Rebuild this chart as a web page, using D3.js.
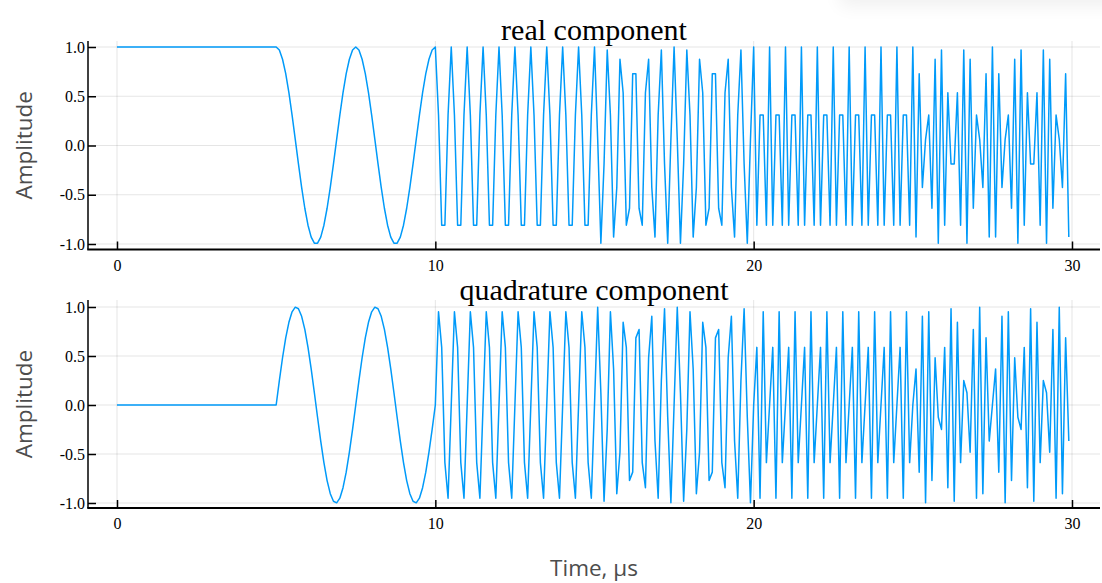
<!DOCTYPE html>
<html>
<head>
<meta charset="utf-8">
<script src="https://cdn.jsdelivr.net/npm/d3@7/dist/d3.min.js"></script>
<style>
  html, body { margin: 0; padding: 0; background: #fff; }
  svg { display: block; }
</style>
</head>
<body>
<div id="chart"></div>
<script>
// sample spacing of the signal, in µs
var sampleStep = 0.1;

// real component, one value per sample (t = 0 ... 29.9 µs)
var realComponent = [
  // 0 - 4.9
  1,1,1,1,1,1,1,1,1,1, 1,1,1,1,1,1,1,1,1,1, 1,1,1,1,1,1,1,1,1,1, 1,1,1,1,1,1,1,1,1,1, 1,1,1,1,1,1,1,1,1,1,
  // 5 - 9.9
  1,0.969,0.876,0.729,0.536,0.309,0.063,-0.187,-0.426,-0.637,-0.809,-0.930,-0.992,-0.992,-0.930,-0.809,-0.637,-0.426,-0.187,0.063,0.309,0.536,0.729,0.876,0.969,
  1,0.969,0.876,0.729,0.536,0.309,0.063,-0.187,-0.426,-0.637,-0.809,-0.930,-0.992,-0.992,-0.930,-0.809,-0.637,-0.426,-0.187,0.063,0.309,0.536,0.729,0.876,0.969,
  // 10 - 14.9
  1,0.309,-0.809,-0.809,0.309, 1,0.309,-0.809,-0.809,0.309, 1,0.309,-0.809,-0.809,0.309, 1,0.309,-0.809,-0.809,0.309, 1,0.309,-0.809,-0.809,0.309,
  1,0.309,-0.809,-0.809,0.309, 1,0.309,-0.809,-0.809,0.309, 1,0.309,-0.809,-0.809,0.309, 1,0.309,-0.809,-0.809,0.309, 1,0.309,-0.809,-0.809,0.309,
  // 15 - 19.9
  1,0.063,-0.992,-0.187,0.969,0.309,-0.930,-0.426,0.876,0.536,-0.809,-0.637,0.729,0.729,-0.637,-0.809,0.536,0.876,-0.426,-0.930,0.309,0.969,-0.187,-0.992,0.063,
  1,0.063,-0.992,-0.187,0.969,0.309,-0.930,-0.426,0.876,0.536,-0.809,-0.637,0.729,0.729,-0.637,-0.809,0.536,0.876,-0.426,-0.930,0.309,0.969,-0.187,-0.992,0.063,
  // 20 - 24.9
  1,-0.809,0.309,0.309,-0.809, 1,-0.809,0.309,0.309,-0.809, 1,-0.809,0.309,0.309,-0.809, 1,-0.809,0.309,0.309,-0.809, 1,-0.809,0.309,0.309,-0.809,
  1,-0.809,0.309,0.309,-0.809, 1,-0.809,0.309,0.309,-0.809, 1,-0.809,0.309,0.309,-0.809, 1,-0.809,0.309,0.309,-0.809, 1,-0.809,0.309,0.309,-0.809,
  // 25 - 29.9
  1,-0.930,0.729,-0.426,0.063,0.309,-0.637,0.876,-0.992,0.969,-0.809,0.536,-0.187,-0.187,0.536,-0.809,0.969,-0.992,0.876,-0.637,0.309,0.063,-0.426,0.729,-0.930,
  1,-0.930,0.729,-0.426,0.063,0.309,-0.637,0.876,-0.992,0.969,-0.809,0.536,-0.187,-0.187,0.536,-0.809,0.969,-0.992,0.876,-0.637,0.309,0.063,-0.426,0.729,-0.930
];

// quadrature component, same samples
var quadComponent = [
  // 0 - 4.9
  0,0,0,0,0,0,0,0,0,0, 0,0,0,0,0,0,0,0,0,0, 0,0,0,0,0,0,0,0,0,0, 0,0,0,0,0,0,0,0,0,0, 0,0,0,0,0,0,0,0,0,0,
  // 5 - 9.9
  0,0.249,0.482,0.685,0.844,0.951,0.998,0.982,0.905,0.771,0.588,0.368,0.125,-0.125,-0.368,-0.588,-0.771,-0.905,-0.982,-0.998,-0.951,-0.844,-0.685,-0.482,-0.249,
  0,0.249,0.482,0.685,0.844,0.951,0.998,0.982,0.905,0.771,0.588,0.368,0.125,-0.125,-0.368,-0.588,-0.771,-0.905,-0.982,-0.998,-0.951,-0.844,-0.685,-0.482,-0.249,
  // 10 - 14.9
  0,0.951,0.588,-0.588,-0.951, 0,0.951,0.588,-0.588,-0.951, 0,0.951,0.588,-0.588,-0.951, 0,0.951,0.588,-0.588,-0.951, 0,0.951,0.588,-0.588,-0.951,
  0,0.951,0.588,-0.588,-0.951, 0,0.951,0.588,-0.588,-0.951, 0,0.951,0.588,-0.588,-0.951, 0,0.951,0.588,-0.588,-0.951, 0,0.951,0.588,-0.588,-0.951,
  // 15 - 19.9
  0,0.998,0.125,-0.982,-0.249,0.951,0.368,-0.905,-0.482,0.844,0.588,-0.771,-0.685,0.685,0.771,-0.588,-0.844,0.482,0.905,-0.368,-0.951,0.249,0.982,-0.125,-0.998,
  0,0.998,0.125,-0.982,-0.249,0.951,0.368,-0.905,-0.482,0.844,0.588,-0.771,-0.685,0.685,0.771,-0.588,-0.844,0.482,0.905,-0.368,-0.951,0.249,0.982,-0.125,-0.998,
  // 20 - 24.9
  0,0.588,-0.951,0.951,-0.588, 0,0.588,-0.951,0.951,-0.588, 0,0.588,-0.951,0.951,-0.588, 0,0.588,-0.951,0.951,-0.588, 0,0.588,-0.951,0.951,-0.588,
  0,0.588,-0.951,0.951,-0.588, 0,0.588,-0.951,0.951,-0.588, 0,0.588,-0.951,0.951,-0.588, 0,0.588,-0.951,0.951,-0.588, 0,0.588,-0.951,0.951,-0.588,
  // 25 - 29.9
  0,0.368,-0.685,0.905,-0.998,0.951,-0.771,0.482,-0.125,-0.249,0.588,-0.844,0.982,-0.982,0.844,-0.588,0.249,0.125,-0.482,0.771,-0.951,0.998,-0.905,0.685,-0.368,
  0,0.368,-0.685,0.905,-0.998,0.951,-0.771,0.482,-0.125,-0.249,0.588,-0.844,0.982,-0.982,0.844,-0.588,0.249,0.125,-0.482,0.771,-0.951,0.998,-0.905,0.685,-0.368
];

var panelTitles = ["real component", "quadrature component"];
var xTicks = [0, 10, 20, 30];
var yTicks = [-1.0, -0.5, 0.0, 0.5, 1.0];

var width = 1102, height = 583;
var lineColor = "#009af9";
var serif = "'Liberation Serif', 'Times New Roman', serif";
var sans = "'Open Sans', 'DejaVu Sans', sans-serif";

var svg = d3.select("#chart").append("svg")
    .attr("width", width)
    .attr("height", height);

// soft shadow in the top right corner
var defs = svg.append("defs");
defs.append("filter").attr("id", "blur")
    .attr("x", "-50%").attr("y", "-50%").attr("width", "200%").attr("height", "200%")
  .append("feGaussianBlur").attr("stdDeviation", 9);
svg.append("rect")
    .attr("x", 840).attr("y", -30)
    .attr("width", 300).attr("height", 36)
    .attr("fill", "#000").attr("opacity", 0.06)
    .attr("filter", "url(#blur)");

var left = 88, right = 1100;

var x = d3.scaleLinear().domain([0, 30]).range([117, 1072]);

var panels = [
  {title: panelTitles[0], values: realComponent, top: 41, bottom: 249.5, yTop: 47, yBot: 244, titleY: 40},
  {title: panelTitles[1], values: quadComponent, top: 300, bottom: 508, yTop: 307, yBot: 503, titleY: 300}
];

panels.forEach(function(p, k) {
  var y = d3.scaleLinear().domain([-1, 1]).range([p.yBot, p.yTop]);
  var g = svg.append("g");

  // grid
  g.selectAll("line.hgrid").data(yTicks).enter().append("line")
      .attr("x1", left).attr("x2", right)
      .attr("y1", function(d) { return y(d); })
      .attr("y2", function(d) { return y(d); })
      .attr("stroke", "#000").attr("stroke-opacity", 0.1).attr("stroke-width", 1);
  g.selectAll("line.vgrid").data(xTicks).enter().append("line")
      .attr("x1", function(d) { return x(d); })
      .attr("x2", function(d) { return x(d); })
      .attr("y1", p.top).attr("y2", p.bottom)
      .attr("stroke", "#000").attr("stroke-opacity", 0.1).attr("stroke-width", 1);

  // signal
  var clipId = "clip" + k;
  defs.append("clipPath").attr("id", clipId)
    .append("rect").attr("x", left).attr("y", p.top - 2)
    .attr("width", right - left).attr("height", p.bottom - p.top + 2);

  var line = d3.line()
      .x(function(d, i) { return x(i * sampleStep); })
      .y(function(d) { return y(d); });

  g.append("path")
      .datum(p.values)
      .attr("clip-path", "url(#" + clipId + ")")
      .attr("fill", "none")
      .attr("stroke", lineColor)
      .attr("stroke-width", 1.5)
      .attr("stroke-linejoin", "round")
      .attr("d", line);

  // y axis
  var yAxis = g.append("g")
      .attr("transform", "translate(" + left + ",0)")
      .call(d3.axisLeft(y).tickValues(yTicks)
        .tickFormat(function(d) { return d.toFixed(1); })
        .tickSize(-8).tickPadding(3));
  yAxis.select(".domain").remove();
  yAxis.selectAll(".tick line").attr("stroke", "#000").attr("stroke-width", 1.5);
  yAxis.selectAll(".tick text")
      .attr("font-family", serif).attr("font-size", "16px").attr("fill", "#000");

  // x axis
  var xAxis = g.append("g")
      .attr("transform", "translate(0," + p.bottom + ")")
      .call(d3.axisBottom(x).tickValues(xTicks)
        .tickFormat(d3.format("d"))
        .tickSize(-8).tickPadding(10));
  xAxis.select(".domain").remove();
  xAxis.selectAll(".tick line").attr("stroke", "#000").attr("stroke-width", 1.5);
  xAxis.selectAll(".tick text")
      .attr("font-family", serif).attr("font-size", "16px").attr("fill", "#000");

  // spines
  g.append("line")
      .attr("x1", left).attr("x2", left)
      .attr("y1", p.top).attr("y2", p.bottom)
      .attr("stroke", "#000").attr("stroke-width", 1.5);
  g.append("line")
      .attr("x1", left - 0.75).attr("x2", right)
      .attr("y1", p.bottom).attr("y2", p.bottom)
      .attr("stroke", "#000").attr("stroke-width", 2);

  // title
  g.append("text")
      .attr("x", (left + right) / 2)
      .attr("y", p.titleY)
      .attr("text-anchor", "middle")
      .attr("font-family", serif)
      .attr("font-size", "30px")
      .attr("fill", "#000")
      .text(p.title);

  // y label
  g.append("text")
      .attr("transform", "translate(32," + ((p.top + p.bottom) / 2) + ") rotate(-90)")
      .attr("text-anchor", "middle")
      .attr("font-family", sans)
      .attr("font-size", "22.5px")
      .attr("fill", "#4d4d4d")
      .text("Amplitude");
});

svg.append("text")
    .attr("x", (left + right) / 2)
    .attr("y", 576)
    .attr("text-anchor", "middle")
    .attr("font-family", sans)
    .attr("font-size", "22.5px")
    .attr("fill", "#4d4d4d")
    .text("Time, µs");
</script>
</body>
</html>
